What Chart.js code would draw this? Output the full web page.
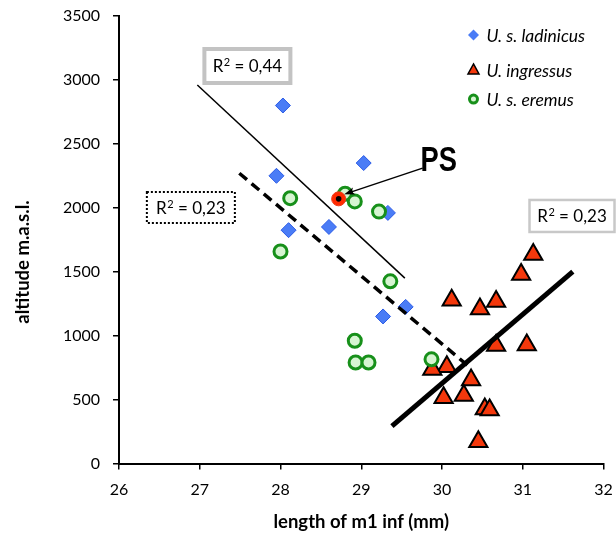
<!DOCTYPE html>
<html>
<head>
<meta charset="utf-8">
<script src="https://cdn.jsdelivr.net/npm/chart.js@4.4.1/dist/chart.umd.min.js"></script>
<style>
  html, body { margin: 0; padding: 0; background: #fff; }
  canvas { display: block; }
</style>
</head>
<body>
<canvas id="chart" width="616" height="533"></canvas>
<script>
// values
const ladinicusX = [28.03, 27.95, 29.03, 28.1, 28.6, 29.33, 29.27, 29.55];
const ladinicusY = [2800, 2250, 2350, 1825, 1850, 1960, 1150, 1225];

const ingressusX = [31.13, 30.98, 30.12, 30.47, 30.67, 30.67, 31.05, 30.06, 29.88, 30.36, 30.02, 30.27, 30.53, 30.59, 30.45];
const ingressusY = [1635, 1478, 1276, 1208, 1267, 923, 927, 756, 735, 653, 515, 532, 426, 418, 171];

const eremusX = [28.12, 28.8, 28.92, 29.22, 28.0, 29.36, 28.92, 28.93, 29.09, 29.87];
const eremusY = [2075, 2110, 2050, 1970, 1658, 1425, 960, 790, 790, 815];

const psX = [28.72];
const psY = [2070];

// trend lines (end points)
const ladinicusFitX = [26.97, 29.54];
const ladinicusFitY = [2960, 1450];
const eremusFitX = [27.49, 30.32];
const eremusFitY = [2270, 765];
const ingressusFitX = [29.38, 31.62];
const ingressusFitY = [293, 1500];

// labels
const r2Values = ["0,44", "0,23", "0,23"];
const r2X = [27.59, 26.89, 31.61];
const r2Y = [3109, 2002, 1936];
const legendNames = ["U. s. ladinicus", "U. ingressus", "U. s. eremus"];
const legendY = [3351, 3078, 2850];
const legendX = 30.39;
const psLabelX = 29.96, psLabelY = 2373;
const arrowFrom = [29.76, 2310];
const arrowTo = [28.79, 2106];

const xTitle = "length of m1 inf (mm)";
const yTitle = "altitude m.a.s.l.";

function points(xs, ys) {
    return xs.map((x, i) => ({ x: x, y: ys[i] }));
}

const BLUE = "#4a7cf6";
const BLUE_EDGE = "#2b5be6";
const RED = "#f4380c";
const GREEN = "#17901a";
const GREEN_FILL = "#d7f5d2";

Chart.defaults.font.family = "Lato";
Chart.defaults.color = "#000";

function fitLine(xs, ys, width, dash) {
    return {
        data: points(xs, ys),
        showLine: true,
        pointRadius: 0,
        borderColor: "#000",
        borderWidth: width,
        borderDash: dash,
        borderCapStyle: "butt",
        fill: false,
    };
}

// keep the plot area where the reference has it
function fixAxis(size) {
    return (scale) => {
        if (scale.isHorizontal()) {
            scale.height = size;
        } else {
            scale.width = size;
        }
        scale.paddingTop = 0;
        scale.paddingBottom = 0;
        scale.paddingLeft = 0;
        scale.paddingRight = 0;
    };
}

const boxStyles = [
    { w: 86, h: 34, color: "#c3c3c3", width: 4, dash: [] },
    { w: 88, h: 31, color: "#000", width: 2, dash: [2, 2] },
    { w: 85, h: 32, color: "#c8c8c8", width: 2.5, dash: [] },
];

// "R² = value" with a real superscript 2
function drawR2(ctx, value, cx, cy) {
    const big = "17px Lato";
    const small = "11px Lato";
    const rest = " = " + value;
    ctx.font = big;
    const wR = ctx.measureText("R").width;
    const wRest = ctx.measureText(rest).width;
    ctx.font = small;
    const w2 = ctx.measureText("2").width + 0.5;
    let x = cx - (wR + w2 + wRest) / 2;
    ctx.textAlign = "left";
    ctx.textBaseline = "alphabetic";
    const base = cy + 6.5;
    ctx.font = big;
    ctx.fillText("R", x, base);
    x += wR;
    ctx.font = small;
    ctx.fillText("2", x + 0.5, base - 6.5);
    x += w2;
    ctx.font = big;
    ctx.fillText(rest, x, base);
}

const overlay = {
    id: "overlay",
    afterDraw(chart) {
        const ctx = chart.ctx;
        const xs = chart.scales.x;
        const ys = chart.scales.y;
        const px = (v) => xs.getPixelForValue(v);
        const py = (v) => ys.getPixelForValue(v);
        ctx.save();

        // R² boxes
        for (let i = 0; i < r2Values.length; ++i) {
            const s = boxStyles[i];
            const cx = px(r2X[i]);
            const cy = py(r2Y[i]);
            ctx.fillStyle = "#fff";
            ctx.fillRect(cx - s.w / 2, cy - s.h / 2, s.w, s.h);
            ctx.strokeStyle = s.color;
            ctx.lineWidth = s.width;
            ctx.setLineDash(s.dash);
            ctx.strokeRect(cx - s.w / 2, cy - s.h / 2, s.w, s.h);
            ctx.setLineDash([]);
            ctx.fillStyle = "#000";
            drawR2(ctx, r2Values[i], cx, cy);
        }

        // PS label (narrow bold) and arrow
        ctx.textAlign = "center";
        ctx.textBaseline = "middle";
        ctx.save();
        ctx.translate(px(psLabelX), py(psLabelY));
        ctx.scale(0.78, 1);
        ctx.font = 'bold 35px "Liberation Sans", sans-serif';
        ctx.fillText("PS", 0, 1);
        ctx.restore();
        const ax = px(arrowFrom[0]), ay = py(arrowFrom[1]);
        const bx = px(arrowTo[0]), by = py(arrowTo[1]);
        const ang = Math.atan2(by - ay, bx - ax);
        ctx.strokeStyle = "#000";
        ctx.lineWidth = 1.5;
        ctx.beginPath();
        ctx.moveTo(ax, ay);
        ctx.lineTo(bx - Math.cos(ang) * 6, by - Math.sin(ang) * 6);
        ctx.stroke();
        ctx.fillStyle = "#000";
        ctx.beginPath();
        ctx.moveTo(bx, by);
        ctx.lineTo(bx - Math.cos(ang - 0.35) * 11, by - Math.sin(ang - 0.35) * 11);
        ctx.lineTo(bx - Math.cos(ang) * 8, by - Math.sin(ang) * 8);
        ctx.lineTo(bx - Math.cos(ang + 0.35) * 11, by - Math.sin(ang + 0.35) * 11);
        ctx.closePath();
        ctx.fill();

        // legend
        const mx = px(legendX);
        ctx.font = "italic 17.5px Lato";
        ctx.textAlign = "left";
        for (let i = 0; i < legendNames.length; ++i) {
            const my = py(legendY[i]);
            ctx.beginPath();
            if (i === 0) {
                ctx.moveTo(mx, my - 5.5);
                ctx.lineTo(mx + 5.5, my);
                ctx.lineTo(mx, my + 5.5);
                ctx.lineTo(mx - 5.5, my);
                ctx.closePath();
                ctx.fillStyle = BLUE;
                ctx.fill();
            } else if (i === 1) {
                ctx.moveTo(mx, my - 6);
                ctx.lineTo(mx + 5.5, my + 4);
                ctx.lineTo(mx - 5.5, my + 4);
                ctx.closePath();
                ctx.fillStyle = RED;
                ctx.fill();
                ctx.lineWidth = 1.5;
                ctx.strokeStyle = "#000";
                ctx.stroke();
            } else {
                ctx.arc(mx, my, 4, 0, Math.PI * 2);
                ctx.fillStyle = GREEN_FILL;
                ctx.fill();
                ctx.lineWidth = 3;
                ctx.strokeStyle = GREEN;
                ctx.stroke();
            }
            ctx.fillStyle = "#000";
            ctx.fillText(legendNames[i], mx + 13, my + 1);
        }

        // axis titles
        ctx.font = "bold 18.5px Lato";
        ctx.textAlign = "center";
        ctx.fillText(xTitle, (chart.chartArea.left + chart.chartArea.right) / 2, 522);
        ctx.translate(23, 262);
        ctx.rotate(-Math.PI / 2);
        ctx.fillText(yTitle, 0, 0);
        ctx.restore();
    },
};

new Chart(document.getElementById("chart"), {
    type: "scatter",
    data: {
        datasets: [
            fitLine(ladinicusFitX, ladinicusFitY, 1.5, []),
            fitLine(eremusFitX, eremusFitY, 3.5, [10, 6]),
            fitLine(ingressusFitX, ingressusFitY, 5, []),
            {
                data: points(psX, psY),
                pointRadius: 2.8,
                pointBackgroundColor: "#000",
                pointBorderWidth: 0,
            },
            {
                data: points(psX, psY),
                pointRadius: 7,
                pointBackgroundColor: "#ff2a00",
                pointBorderColor: "#ee3a1a",
                pointBorderWidth: 1,
            },
            {
                label: "U. s. eremus",
                data: points(eremusX, eremusY),
                pointStyle: "circle",
                pointRadius: 6.5,
                pointBackgroundColor: GREEN_FILL,
                pointBorderColor: GREEN,
                pointBorderWidth: 3,
            },
            {
                label: "U. ingressus",
                data: points(ingressusX, ingressusY),
                pointStyle: "triangle",
                pointRadius: 10.5,
                pointBackgroundColor: RED,
                pointBorderColor: "#000",
                pointBorderWidth: 2,
            },
            {
                label: "U. s. ladinicus",
                data: points(ladinicusX, ladinicusY),
                pointStyle: "rectRot",
                pointRadius: 7.5,
                pointBackgroundColor: BLUE,
                pointBorderColor: BLUE_EDGE,
                pointBorderWidth: 1,
            },
        ],
    },
    options: {
        responsive: false,
        animation: false,
        events: [],
        layout: { padding: { top: 16, right: 12, left: 0, bottom: 0 } },
        plugins: {
            legend: { display: false },
            tooltip: { enabled: false },
        },
        scales: {
            x: {
                type: "linear",
                min: 26,
                max: 32,
                afterFit: fixAxis(69.5),
                ticks: { stepSize: 1, padding: 11, font: { size: 16 } },
                grid: { drawOnChartArea: false, tickLength: 6, color: "#000", lineWidth: 1.5 },
                border: { color: "#000", width: 2 },
            },
            y: {
                type: "linear",
                min: 0,
                max: 3500,
                afterFit: fixAxis(119),
                ticks: {
                    stepSize: 500,
                    padding: 13,
                    font: { size: 16 },
                    callback: (value) => String(value),
                },
                grid: { drawOnChartArea: false, tickLength: 6, color: "#000", lineWidth: 1.5 },
                border: { color: "#000", width: 2 },
            },
        },
    },
    plugins: [overlay],
});
</script>
</body>
</html>
